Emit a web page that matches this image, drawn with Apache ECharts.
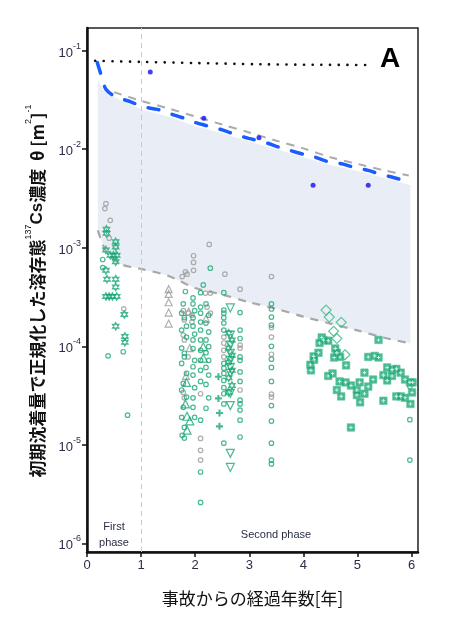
<!DOCTYPE html>
<html>
<head>
<meta charset="utf-8">
<script src="https://cdn.jsdelivr.net/npm/echarts@6/dist/echarts.min.js"></script>
<style>
html,body{margin:0;padding:0;background:#fff;}
#chart{width:450px;height:620px;}
</style>
</head>
<body>
<div id="chart"></div>
<script>
// ---- data ----
var xTicks = [0, 1, 2, 3, 4, 5, 6];
var yTicks = [1e-6, 1e-5, 1e-4, 1e-3, 1e-2, 1e-1];

var dottedTop = [[0.15,0.079],[1.0,0.077],[2.0,0.075],[3.2,0.0728],[4.2,0.0720],[5.2,0.0716]];

var modelLine = [[0.19,0.076],[0.26,0.057],[0.35,0.0406],[0.53,0.0341],[0.81,0.0303],[1.03,0.027],[1.3,0.0254],[1.52,0.0231],[1.8,0.0206],[2.01,0.0186],[2.29,0.0169],[2.5,0.0157],[2.78,0.0139],[2.99,0.0129],[3.3,0.0117],[3.5,0.0107],[3.73,0.0098],[4.0,0.0089],[4.22,0.0083],[4.45,0.0075],[4.72,0.0071],[4.95,0.0065],[5.2,0.0061],[5.45,0.0055],[5.65,0.0052],[5.93,0.0047]];

var smithTop = [[0.5,0.038],[1.0,0.031],[1.5,0.026],[2.0,0.0215],[2.5,0.0178],[3.0,0.0148],[3.5,0.0122],[4.0,0.0102],[4.5,0.0083],[5.0,0.0071],[5.5,0.0061],[5.95,0.0054]];

var bandTop = [[0.2,0.052],[0.25,0.045],[0.3,0.040],[0.4,0.036],[0.6,0.032],[1.0,0.0255],[1.5,0.0215],[2.0,0.0172],[2.5,0.0145],[3.0,0.0120],[3.5,0.0100],[4.0,0.0083],[4.5,0.0069],[5.0,0.0060],[5.5,0.0051],[5.98,0.0043]];

var bandBottom = [[0.2,1.5e-3],[0.3,1.05e-3],[0.4,8.5e-4],[0.63,6.8e-4],[1.0,6.1e-4],[1.5,5.2e-4],[2.0,3.9e-4],[2.5,3.35e-4],[3.0,2.8e-4],[3.5,2.4e-4],[4.0,2.0e-4],[4.5,1.7e-4],[5.0,1.45e-4],[5.5,1.22e-4],[5.98,1.07e-4]];

var blueDots = [[1.17,0.0608],[2.16,0.0206],[3.18,0.0131],[4.18,0.0043],[5.2,0.0043]];

var grayCircles = [[0.35,2.8e-3],[0.33,2.5e-3],[0.43,1.9e-3],[0.41,1.25e-3],[0.68,2.4e-4],
 [1.97,8.3e-4],[1.97,7.1e-4],[1.97,5.9e-4],[1.82,5.7e-4],[1.76,5.1e-4],[1.85,5.4e-4],[2.26,1.08e-3],
 [2.55,5.4e-4],[2.83,3.8e-4],[3.41,5.1e-4],
 [1.78,2.3e-4],[1.87,2.17e-4],[1.94,2.07e-4],[1.8,1.85e-4],[1.94,1.76e-4],[1.78,1.3e-4],[1.8,1.16e-4],[1.87,7.8e-5],[1.78,3.4e-5],[1.8,3.0e-5],
 [2.1,3.3e-5],[2.19,3.47e-4],[2.28,3.47e-4],[2.22,2.5e-4],[2.28,2.17e-4],[2.1,1.16e-5],[2.1,8.8e-6],[2.1,7.0e-6],
 [2.53,1.24e-4],[2.53,1.08e-4],[2.53,9.1e-5],[2.53,7.8e-5],
 [2.83,1.03e-4],[2.83,9.6e-5],[2.83,3.6e-5],
 [3.41,1.55e-4],[3.41,1.24e-4],[3.41,8.3e-5],[3.41,3.27e-5],[3.41,3.05e-5]];

var grayTriangles = [[1.51,3.8e-4],[1.51,3.4e-4],[1.51,2.8e-4],[1.51,2.2e-4],[1.51,1.7e-4],[1.88,2.25e-4],[1.9,9.6e-5],[1.83,5.0e-5],[2.2,1.9e-4]];

var greenCircles = [[0.29,7.6e-4],[0.29,6.3e-4],[0.39,8.0e-5],[0.67,8.8e-5],[0.75,2.0e-5],
 [1.82,3.6e-4],[1.78,2.7e-4],[1.75,2.17e-4],[1.8,1.95e-4],[1.75,1.46e-4],[1.84,1.24e-4],[1.75,9.6e-5],[1.8,7.8e-5],[1.75,6.7e-5],[1.84,5.3e-5],[1.78,4.2e-5],[1.75,3.6e-5],[1.84,3.05e-5],[1.78,2.4e-5],[1.75,1.9e-5],[1.8,1.5e-5],[1.76,1.25e-5],[1.8,1.17e-5],[1.84,1.6e-4],[1.8,8.5e-5],
 [1.96,3.1e-4],[1.96,2.7e-4],[1.99,2.3e-4],[1.96,1.95e-4],[1.96,1.6e-4],[1.99,1.33e-4],[1.96,1.16e-4],[1.96,9.5e-5],[1.99,7.2e-5],[1.96,6.2e-5],[1.96,5.1e-5],[1.99,3.8e-5],[1.96,3.0e-5],[1.96,2.4e-5],[1.99,1.9e-5],
 [2.1,3.5e-4],[2.1,2.5e-4],[2.1,2.17e-4],[2.1,1.76e-4],[2.1,1.46e-4],[2.1,1.16e-4],[2.1,9.1e-5],[2.1,7.2e-5],[2.1,5.7e-5],[2.1,4.4e-5],[2.1,1.78e-5],[2.1,5.3e-6],[2.1,2.6e-6],
 [2.28,6.2e-4],[2.15,4.2e-4],[2.2,2.7e-4],[2.25,2.07e-4],[2.2,1.72e-4],[2.25,1.4e-4],[2.2,1.16e-4],[2.25,9.9e-5],[2.2,8.6e-5],[2.25,7.2e-5],[2.2,6.1e-5],[2.25,5.1e-5],[2.2,4.1e-5],[2.25,3.0e-5],[2.2,2.35e-5],
 [2.53,3.5e-4],[2.53,2.33e-4],[2.53,2.17e-4],[2.53,1.95e-4],[2.53,1.72e-4],[2.53,1.46e-4],[2.53,6.7e-5],[2.53,6.0e-5],[2.53,5.3e-5],[2.53,4.5e-5],[2.53,3.8e-5],[2.53,3.3e-5],[2.53,2.6e-5],[2.53,1.04e-5],
 [2.83,2.2e-4],[2.83,1.46e-4],[2.83,1.2e-4],[2.83,7.8e-5],[2.83,7.2e-5],[2.83,5.5e-5],[2.83,4.4e-5],[2.83,2.84e-5],[2.83,2.6e-5],[2.83,2.25e-5],[2.83,1.78e-5],[2.83,1.2e-5],
 [3.41,2.7e-4],[3.41,2.39e-4],[3.41,1.98e-4],[3.41,1.64e-4],[3.41,1.0e-4],[3.41,7.4e-5],[3.41,6.1e-5],[3.41,4.4e-5],[3.41,2.5e-5],[3.41,1.74e-5],[3.41,1.04e-5],[3.41,7.0e-6],[3.41,6.4e-6],
 [5.97,3.9e-5],[5.97,1.8e-5],[5.97,7.0e-6]];

var greenTriUp = [[1.85,1.95e-5],[1.9,1.75e-5],[1.85,1.41e-5],[1.82,2.6e-5],[2.15,9.9e-5],[2.15,7.6e-5],[1.84,4.3e-5]];

var greenTriDown = [[2.65,2.45e-4],[2.65,1.3e-4],[2.65,1.03e-4],[2.65,8.5e-5],[2.65,7.2e-5],[2.65,6.1e-5],[2.65,5.3e-5],[2.65,3.33e-5],[2.65,2.5e-5],[2.65,8.2e-6],[2.65,5.9e-6]];

var greenStars = [[0.36,1.54e-3],[0.36,1.4e-3],[0.53,1.15e-3],[0.53,1.02e-3],[0.35,9.5e-4],[0.43,8.4e-4],[0.49,8.4e-4],[0.55,8.4e-4],[0.53,7.2e-4],[0.35,5.9e-4],[0.37,4.8e-4],[0.53,4.8e-4],[0.53,4.0e-4],[0.35,3.2e-4],[0.41,3.2e-4],[0.47,3.2e-4],[0.55,3.2e-4],[0.69,2.1e-4],[0.53,1.6e-4],[0.70,1.26e-4],[0.70,1.1e-4],
 [2.62,1.36e-4],[2.68,1.16e-4],[2.62,9.6e-5],[2.68,8.1e-5],[2.62,6.9e-5],[2.68,5.7e-5],[2.62,4.8e-5],[2.68,4.0e-5],[2.62,3.4e-5]];

var greenPlus = [[2.43,4.9e-5],[2.43,2.96e-5],[2.45,2.1e-5],[2.45,1.54e-5]];

var greenDiamonds = [[4.42,2.33e-4],[4.48,1.98e-4],[4.70,1.75e-4],[4.56,1.42e-4],[4.62,1.2e-4],[4.77,8.2e-5]];

var greenSquares = [[4.34,1.23e-4],[4.37,1.16e-4],[4.46,1.14e-4],[4.30,1.08e-4],[4.28,8.6e-5],[4.19,7.9e-5],[4.20,7.3e-5],[4.13,6.5e-5],[4.14,5.7e-5],[4.59,9.5e-5],[4.62,8.6e-5],[4.57,7.7e-5],[4.68,7.8e-5],[4.79,6.4e-5],[4.54,5.3e-5],[4.46,5.0e-5],[4.67,4.4e-5],[4.78,4.3e-5],[4.88,4.0e-5],[4.99,3.6e-5],[5.04,4.3e-5],[5.13,5.4e-5],[5.20,3.9e-5],[5.29,4.6e-5],[4.99,3.2e-5],[5.13,3.3e-5],[5.05,2.7e-5],[4.62,3.6e-5],[4.70,3.1e-5],[4.88,1.5e-5],[5.39,1.16e-4],[5.20,7.8e-5],[5.32,8.0e-5],[5.39,7.7e-5],[5.55,6.1e-5],[5.64,5.8e-5],[5.72,5.9e-5],[5.80,5.4e-5],[5.48,5.1e-5],[5.64,5.0e-5],[5.55,4.5e-5],[5.88,4.6e-5],[5.97,4.3e-5],[6.02,4.3e-5],[6.01,3.4e-5],[5.72,3.1e-5],[5.80,3.1e-5],[5.88,3.0e-5],[5.98,2.6e-5],[5.48,2.8e-5]];

// ---- styles ----
var GREEN = '#1aa874';
var GRAY = '#9a9a9a';
var CLEAR = 'rgba(0,0,0,0)';
var HEX = 'path://M0,-10L8.66,5L-8.66,5Z M0,10L-8.66,-5L8.66,-5Z';
var PLUS = 'path://M-1.2,-4L1.2,-4L1.2,-1.2L4,-1.2L4,1.2L1.2,1.2L1.2,4L-1.2,4L-1.2,1.2L-4,1.2L-4,-1.2L-1.2,-1.2Z';
var FONT = "'Liberation Sans', Arial, 'Noto Sans CJK JP', sans-serif";
var JFONT = "'Noto Sans CJK JP', 'Liberation Sans', sans-serif";

function openScatter(data, symbol, size, color, extra) {
  var s = {
    type: 'scatter', data: data, symbol: symbol, symbolSize: size, z: 5, silent: true,
    itemStyle: { color: CLEAR, borderColor: color, borderWidth: 1.2 }
  };
  if (extra) for (var k in extra) s[k] = extra[k];
  return s;
}

var chart = echarts.init(document.getElementById('chart'), null, { renderer: 'canvas' });

var option = {
  animation: false,
  backgroundColor: '#fff',
  grid: { left: 87, right: 32, top: 28, bottom: 68, show: true, borderColor: '#222', borderWidth: 1.5, backgroundColor: 'transparent' },
  xAxis: {
    type: 'value', min: 0, max: 6.12, interval: 1,
    name: '事故からの経過年数[年]', nameLocation: 'middle', nameGap: 38,
    nameTextStyle: { fontFamily: JFONT, fontSize: 17, color: '#111' },
    axisLine: { show: true, lineStyle: { color: '#111', width: 2.5 } },
    axisTick: { show: true, length: 5, lineStyle: { color: '#111', width: 1.5 } },
    axisLabel: { showMaxLabel: false, fontFamily: FONT, fontSize: 13, color: '#2a2e45', margin: 7,
      formatter: function (v) { return xTicks.indexOf(v) >= 0 ? String(v) : ''; } },
    splitLine: { show: false }
  },
  yAxis: {
    type: 'log', logBase: 10, min: 8.17e-7, max: 0.17,
    axisLine: { show: true, lineStyle: { color: '#111', width: 2.5 } },
    axisTick: { show: true, length: 5, lineStyle: { color: '#111', width: 1.5 } },
    axisLabel: {
      showMinLabel: false, showMaxLabel: false, margin: 6,
      fontFamily: FONT, fontSize: 13, color: '#2a2e45',
      formatter: function (v) {
        var e = Math.round(Math.log10(v));
        var hit = false;
        for (var i = 0; i < yTicks.length; i++) if (Math.abs(Math.log10(yTicks[i]) - Math.log10(v)) < 1e-6) hit = true;
        return hit ? '{b|10}{sup|' + e + '}' : '';
      },
      rich: {
        b: { fontFamily: FONT, fontSize: 13, color: '#2a2e45', lineHeight: 18, verticalAlign: 'bottom' },
        sup: { fontFamily: FONT, fontSize: 9, color: '#2a2e45', lineHeight: 18, verticalAlign: 'top' }
      }
    },
    splitLine: { show: false }
  },
  series: [
    {
      type: 'custom', silent: true, z: 1, data: [[1, 1e-3]],
      renderItem: function (params, api) {
        var pts = [];
        for (var i = 0; i < bandTop.length; i++) pts.push(api.coord(bandTop[i]));
        for (var j = bandBottom.length - 1; j >= 0; j--) pts.push(api.coord(bandBottom[j]));
        return { type: 'polygon', shape: { points: pts }, style: { fill: '#e9eef6', stroke: null } };
      }
    },
    {
      type: 'line', data: smithTop, showSymbol: false, smooth: 0.3, z: 2, silent: true,
      lineStyle: { color: '#aaaaaa', width: 2, type: [8, 7] },
      markLine: {
        silent: true, symbol: ['none', 'none'], label: { show: false },
        lineStyle: { color: '#c8c8c8', width: 1, type: [5, 4] },
        data: [{ xAxis: 1 }]
      }
    },
    {
      type: 'line', data: bandBottom, showSymbol: false, smooth: 0.3, z: 2, silent: true,
      lineStyle: { color: '#a8a8a8', width: 2.2, type: [8, 7] }
    },
    {
      type: 'line', data: modelLine, showSymbol: false, smooth: 0.3, z: 3, silent: true,
      lineStyle: { color: '#1a5cff', width: 3.5, type: [11, 14], cap: 'round' }
    },
    {
      type: 'line', data: dottedTop, showSymbol: false, smooth: 0.3, z: 3, silent: true,
      lineStyle: { color: '#111', width: 2.6, type: [0.1, 8.6], cap: 'round' }
    },
    openScatter(grayCircles, 'circle', 4.5, GRAY),
    openScatter(grayTriangles, 'triangle', 7, GRAY),
    openScatter(greenCircles, 'circle', 4.5, GREEN),
    openScatter(greenTriUp, 'triangle', 8, GREEN),
    openScatter(greenTriDown, 'triangle', 8, GREEN, { symbolRotate: 180 }),
    openScatter(greenStars, HEX, 7.5, GREEN, { symbolKeepAspect: true }),
    {
      type: 'scatter', data: greenPlus, symbol: PLUS, symbolSize: 7, z: 5, silent: true,
      itemStyle: { color: GREEN }
    },
    openScatter(greenDiamonds, 'diamond', 10, '#3cb88a'),
    {
      type: 'scatter', data: greenSquares, symbol: 'rect', symbolSize: 7.5, z: 6, silent: true,
      itemStyle: { color: GREEN, borderColor: '#5cc49c', borderWidth: 0.8 }
    },
    {
      type: 'scatter', data: greenSquares, symbol: PLUS, symbolSize: 3.6, z: 7, silent: true,
      itemStyle: { color: '#e8fff4' }
    },
    {
      type: 'scatter', data: blueDots, symbol: 'circle', symbolSize: 5, z: 8, silent: true,
      itemStyle: { color: '#1010ee' }
    }
  ],
  graphic: [
    {
      type: 'text', x: 35, y: 291, rotation: Math.PI / 2, silent: true,
      style: {
        text: '{j|初期沈着量で正規化した溶存態}{s|137}{c|Cs}{j|濃度  θ [m}{s|2}{j|]}{s|-1}',
        align: 'center', verticalAlign: 'middle',
        rich: {
          j: { fontFamily: JFONT, fontSize: 17, fontWeight: 'bold', fill: '#111', lineHeight: 22, verticalAlign: 'bottom' },
          c: { fontFamily: FONT, fontSize: 17, fontWeight: 'bold', fill: '#111', lineHeight: 22, verticalAlign: 'bottom' },
          s: { fontFamily: FONT, fontSize: 9, fill: '#111', lineHeight: 22, verticalAlign: 'top' }
        }
      }
    },
    {
      type: 'text', x: 264, y: 207, rotation: -0.255, silent: true,
      style: {
        text: '{a|チェルノブイリ原発事故後の欧州の}{s|25}{a|河川}',
        align: 'center', verticalAlign: 'middle',
        rich: {
          a: { fontFamily: JFONT, fontSize: 14, fill: '#222', lineHeight: 18, verticalAlign: 'middle' },
          s: { fontFamily: FONT, fontSize: 11, fill: '#222', lineHeight: 18, verticalAlign: 'bottom' }
        }
      }
    },
    {
      type: 'text', x: 259, y: 230, rotation: -0.26, silent: true,
      style: { text: '(Smith et al., 2004)', font: '10px ' + FONT, fill: '#222', align: 'center', verticalAlign: 'middle' }
    },
    {
      type: 'text', x: 390, y: 59, silent: true,
      style: { text: 'A', font: 'bold 28px ' + FONT, fill: '#000', align: 'center', verticalAlign: 'middle' }
    },
    {
      type: 'text', x: 114, y: 535, silent: true,
      style: { text: 'First\nphase', font: '11px ' + FONT, fill: '#2a2e45', align: 'center', verticalAlign: 'middle', lineHeight: 16 }
    },
    {
      type: 'text', x: 276, y: 535, silent: true,
      style: { text: 'Second phase', font: '11px ' + FONT, fill: '#2a2e45', align: 'center', verticalAlign: 'middle' }
    }
  ]
};
chart.setOption(option);
</script>
</body>
</html>
